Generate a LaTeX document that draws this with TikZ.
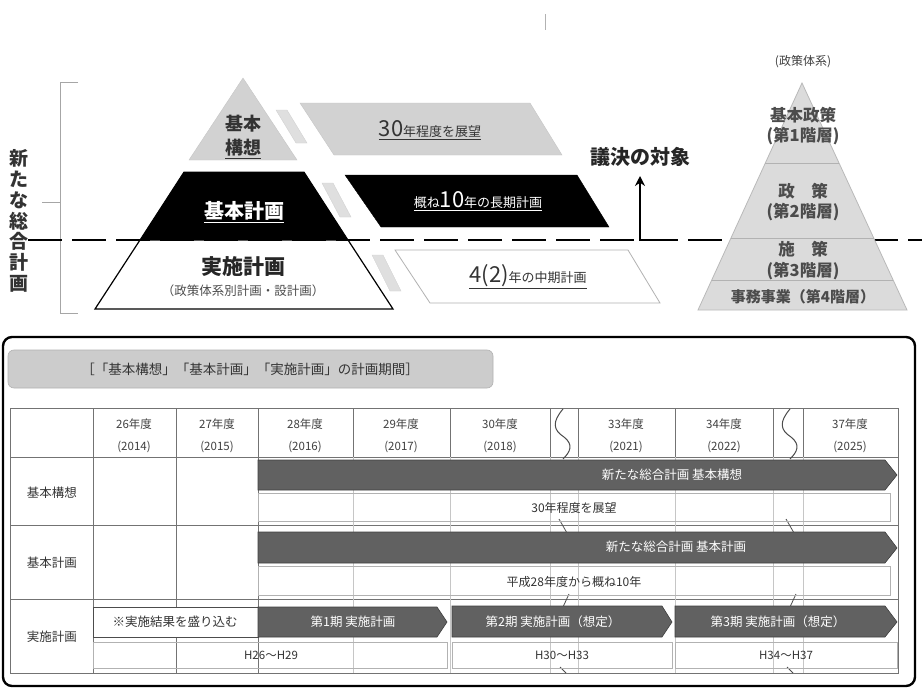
\documentclass[tikz,border=0pt]{standalone}
\usepackage{fontspec}
\setmainfont{Noto Sans CJK JP}
\usetikzlibrary{arrows.meta,calc}
\newcommand{\fz}[2]{\fontsize{#1}{#2}\selectfont}
\begin{document}
\begin{tikzpicture}[x=1pt,y=-1pt,
  txt/.style={inner sep=0pt,anchor=center},
  hatch/.style={fill=gray!35,draw=gray!45,line width=0.4pt},
  strip/.style={fill=gray!25,draw=gray!35,line width=0.4pt},
  darkbar/.style={fill=black!62,draw=black!75,line width=0.6pt},
  subbox/.style={draw=gray!60,line width=0.5pt},
  grid/.style={draw=black!55,line width=0.8pt},
  faint/.style={draw=gray!45,line width=0.5pt},
  layer/.style={draw=gray!60,line width=0.8pt},
  rptext/.style={txt,text=black!70,font=\fz{16.5}{19.5}\bfseries,align=center},
  bartext/.style={txt,text=white,font=\fz{12.5}{14}},
  hdr/.style={txt,text=black!75,font=\fz{11.5}{22},align=center},
  wave/.style={draw=black!70,line width=1pt}]
\useasboundingbox (0,0) rectangle (922,688);
\fill[white] (0,0) rectangle (922,688);

% ---------- top part ----------
\draw[gray!60,line width=0.8pt] (545,14) -- (545,30);
\node[txt,text=black!75,font=\fz{12}{14}] (polsys) at (803,62) {(政策体系)};

% left bracket
\draw[gray!70,line width=1pt] (78,82) -- (60,82) -- (60,313) -- (78,313);
\draw[gray!70,line width=1pt] (60,202) -- (42,202);
\node[txt,font=\fz{19}{20.8}\bfseries,align=center,text=black!80] (newplan) at (19,221)
  {新\\た\\な\\総\\合\\計\\画};

% left pyramid
\filldraw[hatch] (243,78) -- (297,160) -- (189,160) -- cycle;
\filldraw[fill=black,draw=black,line width=1pt] (184,172) -- (304,172) -- (348,240) -- (140,240) -- cycle;
\filldraw[fill=white,draw=black,line width=1.2pt] (140,240) -- (348,240) -- (393,309) -- (95,309) -- cycle;
\node[txt,font=\fz{18}{24}\bfseries,align=center,text=black!80] (kihonkoso) at (243,137) {基本\\\underline{構想}};
\node[txt,font=\fz{20}{22}\bfseries,text=white] (kihonkeikaku) at (244,212) {\underline{基本計画}};
\node[txt,font=\fz{21}{23}\bfseries,text=black!85] (jisshi) at (243,267) {実施計画};
\node[txt,font=\fz{12.5}{14},text=black!70] (jisshisub) at (243,291) {（政策体系別計画・設計画）};

% hatched linking strips
\filldraw[strip] (276,110) -- (287,110) -- (307,143) -- (296,143) -- cycle;
\filldraw[strip] (322,183) -- (333,183) -- (351,217) -- (340,217) -- cycle;
\filldraw[strip] (372,255) -- (383,255) -- (401,291) -- (390,291) -- cycle;

% middle parallelograms
\filldraw[hatch] (300,103) -- (530,103) -- (562,155) -- (334,155) -- cycle;
\node[txt,text=black!80] (t30) at (430,130) {\underline{\fz{22}{24}30\fz{13}{15}年程度を展望}};
\filldraw[fill=black,draw=black] (345,175) -- (577,175) -- (609,227) -- (381,227) -- cycle;
\node[txt,text=white] (t10) at (478,201) {\underline{\fz{13}{15}概ね\fz{22}{24}10\fz{13}{15}年の長期計画}};
\filldraw[fill=white,draw=gray!60,line width=0.8pt] (395,250) -- (628,250) -- (660,303) -- (430,303) -- cycle;
\node[txt,text=black!80] (t42) at (528,277) {\underline{\fz{22}{24}4(2)\fz{13}{15}年の中期計画}};

% dashed boundary line
\draw[line width=2.6pt,dash pattern=on 34pt off 10pt] (28,240) -- (922,240);

% vote target arrow
\node[txt,font=\fz{20}{22}\bfseries,text=black!85] (giketsu) at (640,157) {議決の対象};
\coordinate (vb) at (673,240);
\coordinate (vc) at (640,240);
\coordinate (vt) at (640,176);
\draw[line width=2.2pt,-{Stealth[length=10pt,width=10pt]}] (vb) -- (vc) -- (vt);

% right pyramid
\filldraw[fill=gray!28,draw=gray!55,line width=0.8pt] (802,83) -- (907,310) -- (698,310) -- cycle;
\draw[layer] (765.3,163) -- (839.0,163);
\draw[layer] (731.0,238) -- (873.7,238);
\draw[layer] (711.7,280) -- (893.1,280);
\node[rptext] (rp1) at (803,126) {基本政策\\(第1階層)};
\node[rptext] (rp2) at (803,202) {政　策\\(第2階層)};
\node[rptext,font=\fz{16.5}{21}\bfseries] (rp3) at (803,261) {施　策\\(第3階層)};
\node[rptext,font=\fz{15}{17}\bfseries] (rp4) at (803,297) {事務事業（第4階層）};

% ---------- bottom part ----------
\draw[line width=2.4pt,rounded corners=9pt] (3,337) rectangle (915,686);
\filldraw[fill=gray!40,draw=gray!60,line width=0.6pt,rounded corners=6pt] (8,350) rectangle (493,388);
\node[txt,text=black!80,font=\fz{13.5}{15}] (title) at (250,369) {［「基本構想」「基本計画」「実施計画」の計画期間］};

% table grid
\draw[grid] (10,408) rectangle (898,673);
\foreach \yy in {457,525,599} \draw[grid] (10,\yy) -- (898,\yy);
\foreach \xx in {93,176,258} \draw[grid] (\xx,408) -- (\xx,673);
\foreach \xx in {353,450,550,578,675,773,803} {
  \draw[grid] (\xx,408) -- (\xx,457);
  \draw[faint] (\xx,457) -- (\xx,673);
}
% break waves in header
\draw[wave] (563,409) .. controls (552,422) and (553,430) .. (564,437) .. controls (574,445) and (570,452) .. (563,459);
\draw[wave] (790,409) .. controls (779,422) and (780,430) .. (791,437) .. controls (801,445) and (797,452) .. (790,459);
% break marks in body
\foreach \bx in {563,790} {
  \draw[wave,line width=0.8pt] (\bx-4,519) -- (\bx+4,533);
  \draw[wave,line width=0.8pt] (\bx+6,594) -- (\bx,607);
  \draw[wave,line width=0.8pt] (\bx-3,667) -- (\bx+3,673);
}

% header texts
\node[hdr] (h26) at (134,436) {26年度\\(2014)};
\node[hdr] (h27) at (217,436) {27年度\\(2015)};
\node[hdr] (h28) at (305,436) {28年度\\(2016)};
\node[hdr] (h29) at (401,436) {29年度\\(2017)};
\node[hdr] (h30) at (500,436) {30年度\\(2018)};
\node[hdr] (h33) at (626,436) {33年度\\(2021)};
\node[hdr] (h34) at (724,436) {34年度\\(2022)};
\node[hdr] (h37) at (850,436) {37年度\\(2025)};

% row labels
\node[txt,text=black!80,font=\fz{12.5}{14}] (r1) at (52,493) {基本構想};
\node[txt,text=black!80,font=\fz{12.5}{14}] (r2) at (52,563) {基本計画};
\node[txt,text=black!80,font=\fz{12.5}{14}] (r3) at (52,637) {実施計画};

% row 1
\filldraw[darkbar] (258,460) -- (885,460) -- (897,475) -- (885,490) -- (258,490) -- cycle;
\node[bartext] (b1) at (672,475) {新たな総合計画 基本構想};
\draw[subbox] (258,493) rectangle (890,521);
\node[txt,text=black!80,font=\fz{12}{14}] (s1) at (574,508) {30年程度を展望};

% row 2
\filldraw[darkbar] (258,532) -- (885,532) -- (897,548) -- (885,563) -- (258,563) -- cycle;
\node[bartext] (b2) at (676,547) {新たな総合計画 基本計画};
\draw[subbox] (258,566) rectangle (890,595);
\node[txt,text=black!80,font=\fz{12}{14}] (s2) at (574,582) {平成28年度から概ね10年};

% row 3
\filldraw[fill=white,draw=black!70,line width=0.8pt] (93,607) rectangle (258,637);
\node[txt,text=black!80,font=\fz{12.5}{14}] (note) at (175,622) {※実施結果を盛り込む};
\filldraw[darkbar] (258,607) -- (437,607) -- (447,622) -- (437,637) -- (258,637) -- cycle;
\node[bartext] (p1) at (353,622) {第1期 実施計画};
\filldraw[darkbar] (452,606) -- (662,606) -- (672,622) -- (662,637) -- (452,637) -- cycle;
\node[bartext] (p2) at (553,622) {第2期 実施計画（想定）};
\filldraw[darkbar] (675,606) -- (885,606) -- (897,622) -- (885,637) -- (675,637) -- cycle;
\node[bartext] (p3) at (778,622) {第3期 実施計画（想定）};
\draw[subbox] (93,642) rectangle (447,668);
\draw[subbox] (452,642) rectangle (672,668);
\draw[subbox] (675,642) rectangle (897,668);
\node[txt,text=black!80,font=\fz{11.5}{13}] (y1) at (271,655) {H26～H29};
\node[txt,text=black!80,font=\fz{11.5}{13}] (y2) at (562,655) {H30～H33};
\node[txt,text=black!80,font=\fz{11.5}{13}] (y3) at (786,655) {H34～H37};
\end{tikzpicture}
\end{document}
